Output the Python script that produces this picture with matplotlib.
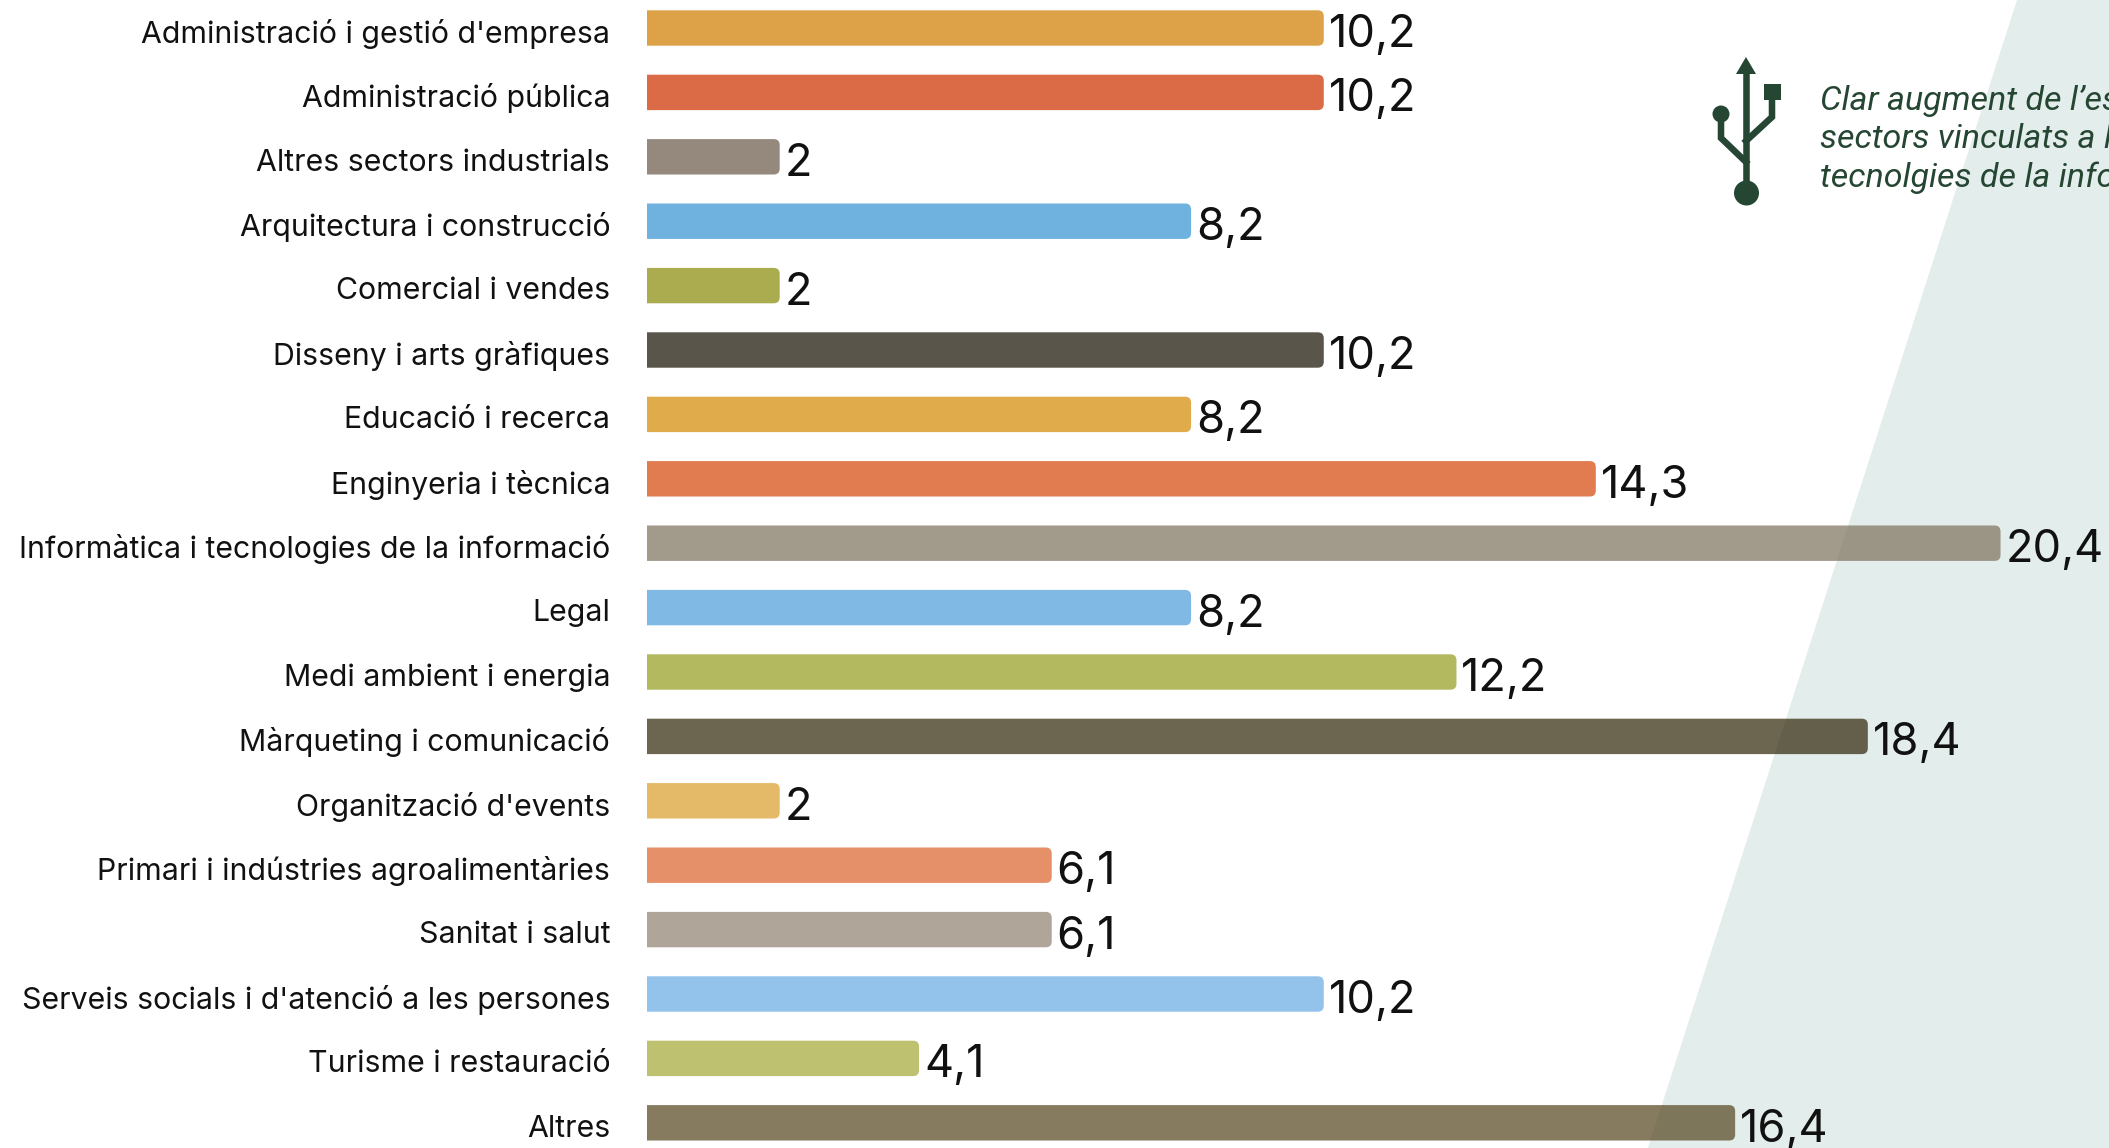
import matplotlib
matplotlib.use("Agg")
import matplotlib.pyplot as plt
from matplotlib.colors import to_rgb
from matplotlib.patches import Circle, PathPatch, Polygon
from matplotlib.path import Path
from matplotlib.transforms import ScaledTranslation

categories = ["Administració i gestió d'empresa", "Administració pública", "Altres sectors industrials",
              "Arquitectura i construcció", "Comercial i vendes", "Disseny i arts gràfiques",
              "Educació i recerca", "Enginyeria i tècnica", "Informàtica i tecnologies de la informació",
              "Legal", "Medi ambient i energia", "Màrqueting i comunicació", "Organització d'events",
              "Primari i indústries agroalimentàries", "Sanitat i salut",
              "Serveis socials i d'atenció a les persones", "Turisme i restauració", "Altres"]
values = [10.2, 10.2, 2, 8.2, 2, 10.2, 8.2, 14.3, 20.4, 8.2, 12.2, 18.4, 2, 6.1, 6.1, 10.2, 4.1, 16.4]
colors = ["#DDA338", "#DC6B35", "#958A7E", "#6FB3E0", "#ABAD4F", "#5A554B",
          "#E0AC4C", "#E17C50", "#A39A8C", "#82BAE5", "#B3B95F", "#6C6551",
          "#E4B967", "#E59169", "#AFA699", "#93C4EA", "#BEC170", "#877B60"]
note_lines = ["Clar augment de l’es", "sectors vinculats a la", "tecnolgies de la info"]

W, H = 2109, 1148
GREEN = "#254632"
BAR_ALPHA = 0.72
LEFT = 647

fig = plt.figure(figsize=(W / 100, H / 100), dpi=100, facecolor="white")

# background layer in pixel coordinates: green wedge, usb icon, note
bg = fig.add_axes([0, 0, 1, 1], zorder=0)
bg.set_xlim(0, W)
bg.set_ylim(H, 0)
bg.axis("off")
bg.add_patch(Polygon([(2017, 0), (W, 0), (W, H), (1648, H)], closed=True, fc="#E3EDEB", ec="none"))

bg.plot([1746, 1746], [70, 190], color=GREEN, lw=4.7, solid_capstyle="butt")
bg.plot([1721, 1721, 1746], [114, 138, 162], color=GREEN, lw=4.7, solid_joinstyle="miter")
bg.plot([1772, 1772, 1746], [95, 117, 141], color=GREEN, lw=4.7, solid_joinstyle="miter")
bg.add_patch(Polygon([(1746, 57), (1756, 74), (1736, 74)], closed=True, fc=GREEN, ec="none"))
bg.add_patch(Polygon([(1763.5, 83.5), (1780.5, 83.5), (1780.5, 100), (1763.5, 100)], closed=True, fc=GREEN, ec="none"))
bg.add_patch(Circle((1746.5, 193), 12.5, fc=GREEN, ec="none"))
bg.add_patch(Circle((1721, 114), 8.5, fc=GREEN, ec="none"))

for i, line in enumerate(note_lines):
    bg.text(1820, 101 + i * 38.5, line, family="Roboto", style="italic",
            fontsize=24.5, color=GREEN, ha="left", va="center")

# bars
ax = fig.add_axes([LEFT / W, 0, 1 - LEFT / W, 1], zorder=1)
ax.patch.set_visible(False)
px_per_unit = 66.35
px_per_row = 64.4
ax.set_xlim(0, (W - LEFT) / px_per_unit)
ax.set_ylim((H - 28) / px_per_row, -28 / px_per_row)
for s in ax.spines.values():
    s.set_visible(False)
ax.set_xticks([])
ax.set_yticks(range(len(categories)))
ax.set_yticklabels(categories, family="Inter", fontsize=21.8, color="#111111")
ax.tick_params(axis="y", length=0, pad=26.5)
# labels sit slightly below the bar centres
for lab in ax.get_yticklabels():
    lab.set_transform(lab.get_transform() + ScaledTranslation(0, -2 / 72, fig.dpi_scale_trans))


def rounded_right(bar, rx, ry):
    # path for a bar with only the right corners rounded
    x0, y0 = bar.get_x(), bar.get_y()
    x1, y1 = x0 + bar.get_width(), y0 + bar.get_height()
    verts = [(x0, y0), (x1 - rx, y0), (x1, y0), (x1, y0 + ry), (x1, y1 - ry), (x1, y1), (x1 - rx, y1), (x0, y1), (x0, y0)]
    codes = [Path.MOVETO, Path.LINETO, Path.CURVE3, Path.CURVE3, Path.LINETO, Path.CURVE3, Path.CURVE3, Path.LINETO, Path.CLOSEPOLY]
    return Path(verts, codes)


def unmix(c):
    # colour that gives c on white once drawn with BAR_ALPHA
    return tuple(max(0, (v - (1 - BAR_ALPHA)) / BAR_ALPHA) for v in to_rgb(c))


bars = ax.barh(range(len(values)), values, height=0.55, color="none")
for bar, v, c in zip(bars, values, colors):
    ax.add_patch(PathPatch(rounded_right(bar, 6 / px_per_unit, 6 / px_per_row),
                           fc=unmix(c), ec="none", alpha=BAR_ALPHA))
    ax.annotate(str(v).replace(".", ","), (v, bar.get_y() + bar.get_height() / 2),
                xytext=(3.5, -5), textcoords="offset points", family="Inter", fontsize=32.5,
                color="#111111", ha="left", va="center", annotation_clip=False)

fig.savefig("out.png", dpi=100)
